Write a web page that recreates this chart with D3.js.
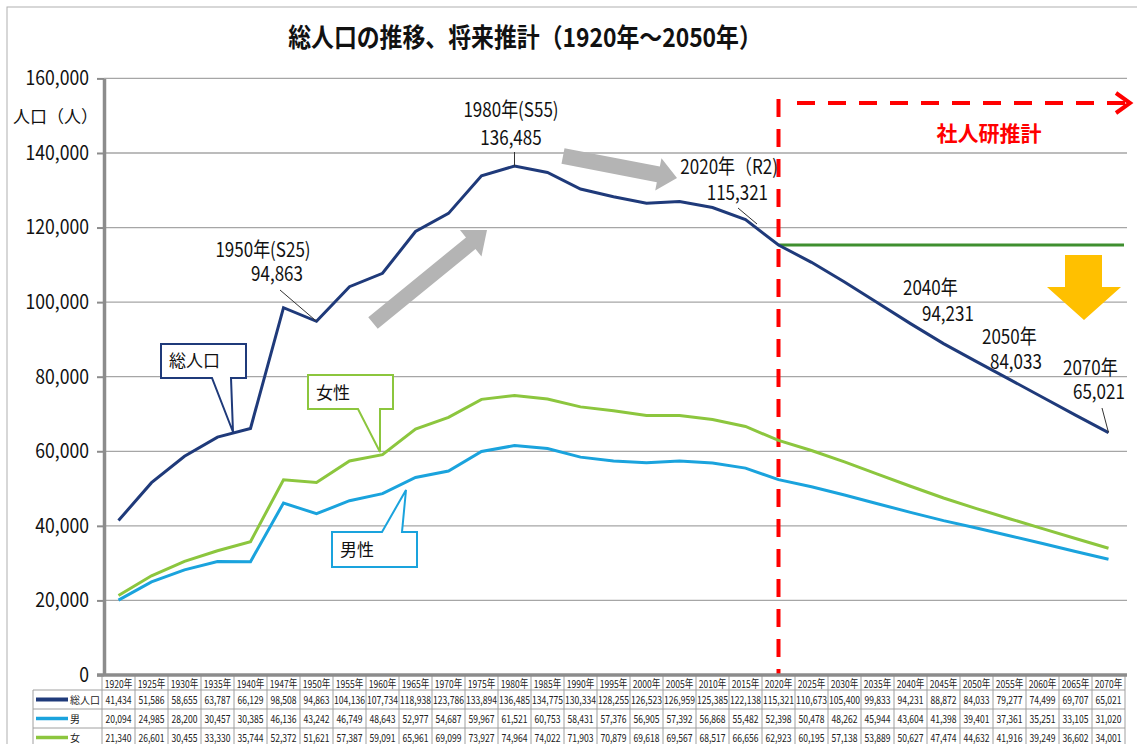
<!DOCTYPE html>
<html>
<head>
<meta charset="utf-8">
<script src="https://cdn.jsdelivr.net/npm/d3@7"></script>
<style>
  html, body { margin: 0; padding: 0; background: #fff; }
  svg { display: block; }
</style>
</head>
<body>
<svg id="chart" width="1137" height="744"></svg>
<script>
const years = ["1920","1925","1930","1935","1940","1947","1950","1955","1960","1965","1970","1975","1980","1985","1990","1995","2000","2005","2010","2015","2020","2025","2030","2035","2040","2045","2050","2055","2060","2065","2070"];
const totalPop = [41434,51586,58655,63787,66129,98508,94863,104136,107734,118938,123786,133894,136485,134775,130334,128255,126523,126959,125385,122138,115321,110673,105400,99833,94231,88872,84033,79277,74499,69707,65021];
const malePop = [20094,24985,28200,30457,30385,46136,43242,46749,48643,52977,54687,59967,61521,60753,58431,57376,56905,57392,56868,55482,52398,50478,48262,45944,43604,41398,39401,37361,35251,33105,31020];
const femalePop = [21340,26601,30455,33330,35744,52372,51621,57387,59091,65961,69099,73927,74964,74022,71903,70879,69618,69567,68517,66656,62923,60195,57138,53889,50627,47474,44632,41916,39249,36602,34001];
const yTicks = [0,20000,40000,60000,80000,100000,120000,140000,160000];
const seriesNames = ["総人口","男","女"];
const titleText = "総人口の推移、将来推計（1920年～2050年）";

const FONT = "'Noto Sans CJK JP','Noto Sans',sans-serif";
const C_TOTAL = "#1f3a7a", C_MALE = "#1aa3dd", C_FEMALE = "#8cc63e";
const GRID = "#a6a6a6", AXIS = "#8c8c8c";

const svg = d3.select("#chart");
const fmt = d3.format(",");

const x = d3.scaleBand().domain(years).range([102, 1125]);
const cx = d => x(d) + x.bandwidth() / 2;
const y = d3.scaleLinear().domain([0, 160000]).range([675, 78.4]);

// condensed text helper
function ctext(g, tx, ty, str, o) {
  o = Object.assign({ size: 20, anchor: "start", sx: 0.85, weight: "normal", fill: "#111" }, o || {});
  return g.append("text").attr("transform", `translate(${tx},${ty}) scale(${o.sx},1)`)
    .attr("text-anchor", o.anchor).attr("font-family", FONT).attr("font-size", o.size)
    .attr("font-weight", o.weight).attr("fill", o.fill).text(str);
}

// outer frame
svg.append("rect").attr("x", 7).attr("y", 7).attr("width", 1150).attr("height", 760)
  .attr("fill", "none").attr("stroke", "#b0b0b0").attr("stroke-width", 1);

// title
ctext(svg, 525, 47, titleText, { size: 26, anchor: "middle", sx: 0.88, weight: "bold" });

// gridlines
svg.append("g").selectAll("line").data(yTicks.filter(d => d > 0)).join("line")
  .attr("x1", 104).attr("x2", 1127).attr("y1", d => y(d)).attr("y2", d => y(d))
  .attr("stroke", GRID).attr("stroke-width", 1.3);

// y axis
const yAxis = svg.append("g").attr("transform", "translate(104,0)")
  .call(d3.axisLeft(y).tickValues(yTicks).tickSize(7).tickSizeOuter(0).tickPadding(8).tickFormat(fmt));
yAxis.select(".domain").attr("stroke", AXIS).attr("stroke-width", 3.5);
yAxis.selectAll(".tick line").attr("stroke", AXIS).attr("stroke-width", 2);
yAxis.selectAll(".tick text").attr("font-family", FONT).attr("font-size", 20).attr("fill", "#111")
  .attr("x", null).attr("transform", "translate(-15,0) scale(0.88,1)");

ctext(svg, 13, 123, "人口（人）", { size: 17, sx: 1 });

// red dashed projection marker
const x2020 = cx("2020");
svg.append("line").attr("x1", x2020).attr("x2", x2020).attr("y1", 99).attr("y2", 675)
  .attr("stroke", "#ff0000").attr("stroke-width", 4).attr("stroke-dasharray", "18,12");
svg.append("line").attr("x1", 797).attr("x2", 1128).attr("y1", 103).attr("y2", 103)
  .attr("stroke", "#ff0000").attr("stroke-width", 4).attr("stroke-dasharray", "18,13");
svg.append("path").attr("d", "M1116,93 L1130,103 L1116,113")
  .attr("fill", "none").attr("stroke", "#ff0000").attr("stroke-width", 4);
ctext(svg, 989, 141, "社人研推計", { size: 21, anchor: "middle", sx: 1, weight: "bold", fill: "#ff0000" });

// green reference line at 2020 level
const v2020 = totalPop[years.indexOf("2020")];
svg.append("line").attr("x1", x2020).attr("x2", 1124).attr("y1", y(v2020)).attr("y2", y(v2020))
  .attr("stroke", "#3f8f2f").attr("stroke-width", 3);

// yellow down arrow
svg.append("path").attr("d", "M1065,255 H1102 V287 H1121 L1084,320 L1047,287 H1065 Z").attr("fill", "#ffc000");

// gray trend arrows
function arrow(x0, y0, x1, y1, sw, hw, hl) {
  const dx = x1 - x0, dy = y1 - y0, L = Math.hypot(dx, dy);
  const ux = dx / L, uy = dy / L, nx = -uy, ny = ux;
  const bx = x1 - ux * hl, by = y1 - uy * hl;
  const p = [
    [x0 + nx * sw / 2, y0 + ny * sw / 2], [bx + nx * sw / 2, by + ny * sw / 2],
    [bx + nx * hw / 2, by + ny * hw / 2], [x1, y1],
    [bx - nx * hw / 2, by - ny * hw / 2], [bx - nx * sw / 2, by - ny * sw / 2],
    [x0 - nx * sw / 2, y0 - ny * sw / 2]];
  return "M" + p.map(q => q.join(",")).join("L") + "Z";
}
svg.append("path").attr("d", arrow(373, 323, 487, 230, 15, 34, 21)).attr("fill", "#b4b4b4");
svg.append("path").attr("d", arrow(563, 156, 677, 178, 16, 33, 19)).attr("fill", "#b4b4b4");

// data lines
const line = vals => d3.line().x((d, i) => cx(years[i])).y(d => y(d))(vals);
svg.append("path").attr("d", line(femalePop)).attr("fill", "none").attr("stroke", C_FEMALE).attr("stroke-width", 3);
svg.append("path").attr("d", line(malePop)).attr("fill", "none").attr("stroke", C_MALE).attr("stroke-width", 3);
svg.append("path").attr("d", line(totalPop)).attr("fill", "none").attr("stroke", C_TOTAL).attr("stroke-width", 3);

// callouts
function callout(d, color, label, tx, ty) {
  svg.append("path").attr("d", d).attr("fill", "#fff").attr("stroke", color).attr("stroke-width", 2);
  ctext(svg, tx, ty, label, { size: 17, sx: 1 });
}
callout("M161,344 H246 V378 H231 L233,432 L212,378 H161 Z", C_TOTAL, "総人口", 169, 367);
callout("M308,375 H393 V409 H380 L380,452 L358,409 H308 Z", C_FEMALE, "女性", 316, 399);
callout("M332,532 H382 L406,490 L402,532 H417 V567 H332 Z", C_MALE, "男性", 340, 556);

// value annotations
function label(lines, anchor) {
  lines.forEach(l => ctext(svg, l[0], l[1], l[2], { size: 20, anchor: anchor, sx: 0.85 }));
}
function leader(x1, y1, x2, y2) {
  svg.append("line").attr("x1", x1).attr("y1", y1).attr("x2", x2).attr("y2", y2)
    .attr("stroke", "#333").attr("stroke-width", 1);
}
const val = yr => totalPop[years.indexOf(yr)];
leader(280, 290, cx("1950"), y(val("1950")));
label([[263, 257, "1950年(S25)"], [277, 281, fmt(val("1950"))]], "middle");
leader(cx("1980"), 152, cx("1980"), y(val("1980")));
label([[511, 117, "1980年(S55)"], [511, 145, fmt(val("1980"))]], "middle");
leader(738, 208, 757, 224);
label([[778, 174, "2020年（R2)"], [768, 200, fmt(val("2020"))]], "end");
label([[903, 295, "2040年"], [922, 321, fmt(val("2040"))]], "start");
label([[982, 344, "2050年"], [990, 369, fmt(val("2050"))]], "start");
leader(1102, 408, cx("2070"), y(val("2070")));
label([[1063, 375, "2070年"], [1073, 399, fmt(val("2070"))]], "start");

// data table
const T = svg.append("g");
const rowY = [677, 690, 709, 728, 747];
const TB = "#a0a0a0";
years.forEach(yr => ctext(T, cx(yr), 688, yr + "年", { size: 11, anchor: "middle", sx: 0.78, fill: "#222" }));
x.domain().concat(["end"]).forEach(yr => {
  const xx = yr === "end" ? 1125 : x(yr);
  T.append("line").attr("x1", xx).attr("x2", xx).attr("y1", 676).attr("y2", 747).attr("stroke", TB).attr("stroke-width", 1);
});
T.append("line").attr("x1", 33).attr("x2", 33).attr("y1", 690).attr("y2", 747).attr("stroke", TB);
[690, 709, 728].forEach(r => T.append("line").attr("x1", 33).attr("x2", 1125).attr("y1", r).attr("y2", r).attr("stroke", TB));
const tableSeries = [totalPop, malePop, femalePop];
const tableColors = [C_TOTAL, C_MALE, C_FEMALE];
tableSeries.forEach((s, r) => {
  const mid = (rowY[r + 1] + rowY[r + 2]) / 2;
  T.append("line").attr("x1", 36).attr("x2", 68).attr("y1", mid).attr("y2", mid)
    .attr("stroke", tableColors[r]).attr("stroke-width", r === 0 ? 4 : 3.5);
  ctext(T, 70, mid + 4, seriesNames[r], { size: 10, sx: 1, fill: "#222" });
  s.forEach((v, i) => ctext(T, cx(years[i]), mid + 4, fmt(v), { size: 11, anchor: "middle", sx: 0.78, fill: "#222" }));
});

// x axis line
svg.append("line").attr("x1", 97).attr("x2", 1127).attr("y1", 675).attr("y2", 675)
  .attr("stroke", AXIS).attr("stroke-width", 3.5);
</script>
</body>
</html>
